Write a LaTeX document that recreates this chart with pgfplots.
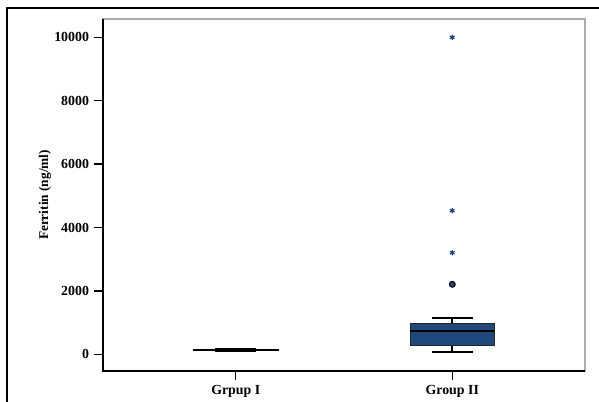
\documentclass[border=0pt]{standalone}
\usepackage{fontspec}
\setmainfont{Liberation Serif}
\usepackage{pgfplots}
\pgfplotsset{compat=1.18}
\definecolor{boxblue}{RGB}{31,73,125}

\begin{document}
\begin{tikzpicture}
\useasboundingbox (0,0) rectangle (449.25pt,300.75pt);
% outer frame (top and left edges)
\draw[line width=1.6pt] (5.25pt,-2pt) -- (5.25pt,294.75pt) -- (452pt,294.75pt);
\begin{axis}[
  at={(77.25pt,22.5pt)}, anchor=south west,
  scale only axis, width=361.5pt, height=264pt,
  xmin=0.387, xmax=2.613, ymin=-527, ymax=10577,
  xtick={1,2}, xticklabels={Grpup I, Group II},
  ytick={0,2000,4000,6000,8000,10000},
  scaled ticks=false,
  /pgf/number format/1000 sep={},
  /pgf/number format/assume math mode=true,
  tick align=outside, major tick length=7pt,
  xtick pos=bottom, ytick pos=left,
  tick style={black, line width=0.9pt},
  tick label style={font=\fontsize{10.4}{12}\selectfont\bfseries},
  ylabel={Ferritin (ng/ml)},
  ylabel style={font=\fontsize{10}{12}\selectfont\bfseries},
  ylabel shift=-4.5pt,
  axis line style={draw=gray!65, line width=0.8pt},
  clip=false,
]
% black left and bottom axis lines
\draw[black, line width=1.2pt] (rel axis cs:0,1) -- (rel axis cs:0,0) -- (rel axis cs:1,0);

% Grpup I: whiskers 110/185, quartiles 130/160, median 145
\addplot[black, line width=1.3pt] coordinates {(1,110) (1,185)};
\addplot[black, line width=1.3pt] coordinates {(0.905,110) (1.095,110)};
\addplot[black, line width=1.3pt] coordinates {(0.905,185) (1.095,185)};
\addplot[draw=black, fill=boxblue, line width=1pt]
  coordinates {(0.805,130) (1.195,130) (1.195,160) (0.805,160)} --cycle;
\addplot[black, line width=1.3pt] coordinates {(0.805,145) (1.195,145)};

% Group II: whiskers 73/1136, quartiles 284/978, median 744
\addplot[black, line width=1.3pt] coordinates {(2,73) (2,1136)};
\addplot[black, line width=1.3pt] coordinates {(1.905,73) (2.095,73)};
\addplot[black, line width=1.3pt] coordinates {(1.905,1136) (2.095,1136)};
\addplot[draw=black!85, fill=boxblue, line width=0.8pt]
  coordinates {(1.805,284) (2.195,284) (2.195,978) (1.805,978)} --cycle;
\addplot[black, line width=1.4pt] coordinates {(1.805,744) (2.195,744)};

% outlier
\addplot[only marks, mark=*, mark size=2.2pt,
  mark options={fill=boxblue, draw=black, line width=0.8pt}]
  coordinates {(2,2208)};
% extreme values
\addplot[only marks, mark=asterisk, mark size=2pt, boxblue,
  mark options={line width=0.9pt}]
  coordinates {(2,3205) (2,4530) (2,10000)};
\end{axis}
\end{tikzpicture}
\end{document}
